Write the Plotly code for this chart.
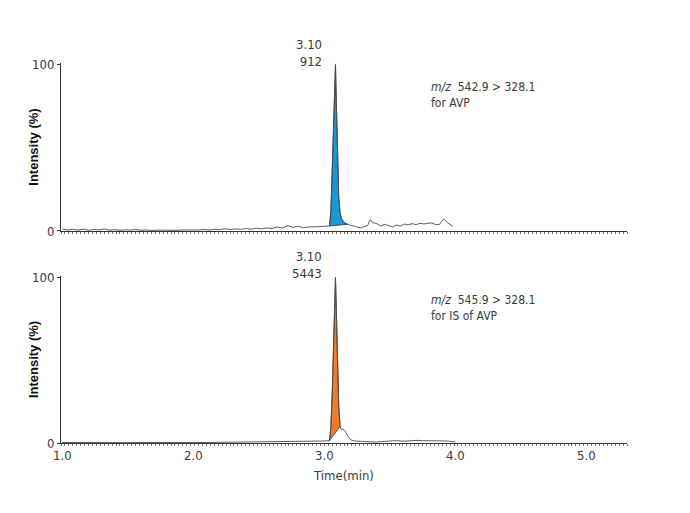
import plotly.graph_objects as go

# chromatogram for AVP (m/z 542.9 > 328.1)
avp_time = [1.00, 1.04, 1.08, 1.12, 1.16, 1.20, 1.24, 1.28, 1.32, 1.36, 1.40, 1.44, 1.48,
            1.52, 1.56, 1.60, 1.64, 1.68, 1.72, 1.76, 1.80, 1.84, 1.88, 1.92, 1.96, 2.00,
            2.04, 2.08, 2.12, 2.16, 2.20, 2.24, 2.28, 2.32, 2.36, 2.40, 2.44, 2.48, 2.52,
            2.56, 2.60, 2.64, 2.68, 2.72, 2.76, 2.80, 2.84, 2.88, 2.92, 2.96, 3.00,
            3.04, 3.05, 3.06, 3.07, 3.08, 3.085, 3.09, 3.10, 3.11, 3.12, 3.13, 3.15, 3.175,
            3.20, 3.24, 3.28, 3.31, 3.33, 3.35, 3.37, 3.40, 3.43, 3.46, 3.49, 3.52, 3.55,
            3.58, 3.61, 3.64, 3.67, 3.70, 3.73, 3.76, 3.79, 3.82, 3.85, 3.88, 3.91, 3.94,
            3.98]
avp_int = [1.2, 0.6, 1.0, 0.5, 1.1, 0.4, 0.9, 0.6, 1.2, 0.5, 0.8, 0.4, 0.7,
           0.5, 0.9, 0.4, 0.6, 0.3, 0.5, 0.4, 0.6, 0.5, 0.4, 0.6, 0.5, 0.8,
           0.6, 0.9, 0.5, 1.0, 0.8, 1.3, 0.9, 1.2, 1.0, 1.4, 1.1, 1.6, 1.3,
           1.8, 1.5, 2.4, 1.8, 3.2, 2.2, 2.8, 2.0, 2.4, 2.3, 2.6, 2.8,
           3.0, 12.0, 35.0, 62.0, 88.0, 100.0, 82.0, 45.0, 20.0, 11.0, 7.5, 5.0, 4.0,
           3.4, 2.6, 1.8, 2.8, 3.2, 6.8, 5.0, 4.4, 3.0, 4.0, 3.2, 2.4, 3.6,
           2.8, 4.2, 3.6, 4.4, 3.8, 4.6, 4.2, 4.6, 4.8, 3.8, 4.0, 7.2, 5.0,
           2.8]
avp_peak = (3.04, 3.175)

# chromatogram for IS of AVP (m/z 545.9 > 328.1)
is_time = [1.00, 1.10, 1.20, 1.30, 1.40, 1.50, 1.60, 1.70, 1.80, 1.90, 2.00, 2.10, 2.20,
           2.30, 2.40, 2.50, 2.60, 2.70, 2.80, 2.85, 2.90, 2.95, 3.00, 3.04, 3.05, 3.06,
           3.07, 3.08, 3.085, 3.09, 3.10, 3.11, 3.12, 3.13, 3.14, 3.16, 3.18, 3.20, 3.23,
           3.26, 3.30, 3.35, 3.40, 3.45, 3.50, 3.55, 3.60, 3.65, 3.70, 3.75, 3.80, 3.85,
           3.90, 3.95, 4.00]
is_int = [0.3, 0.2, 0.3, 0.2, 0.3, 0.2, 0.3, 0.2, 0.3, 0.2, 0.3, 0.3, 0.4,
          0.3, 0.4, 0.4, 0.5, 0.6, 0.8, 1.0, 1.1, 1.0, 1.2, 1.5, 10.0, 30.0,
          60.0, 88.0, 100.0, 85.0, 50.0, 22.0, 10.0, 8.0, 8.5, 7.0, 4.0, 2.0, 1.2,
          1.0, 0.8, 0.7, 0.6, 0.7, 1.2, 1.4, 1.1, 1.3, 1.6, 1.4, 1.5, 1.2,
          1.3, 1.1, 0.6]
is_peak = (3.04, 3.12)

x_ticks = [1.0, 2.0, 3.0, 4.0, 5.0]
x_labels = ["1.0", "2.0", "3.0", "4.0", "5.0"]
y_ticks = [0, 100]

narrow = "DejaVu Sans Condensed, Liberation Sans Narrow, Liberation Sans, sans-serif"
line_col = "#4a4a4a"
txt_col = "#3a3a3a"


def peak_polygon(t, y, lims):
    px = [a for a in t if lims[0] <= a <= lims[1]]
    py = [b for a, b in zip(t, y) if lims[0] <= a <= lims[1]]
    return px + [px[0]], py + [py[0]]


fig = go.Figure()

fx, fy = peak_polygon(avp_time, avp_int, avp_peak)
fig.add_trace(go.Scatter(x=fx, y=fy, fill="toself", fillcolor="#1b98d8",
                         line=dict(color="#1a3a4a", width=0.8), mode="lines",
                         xaxis="x", yaxis="y", hoverinfo="skip"))
fig.add_trace(go.Scatter(x=avp_time, y=avp_int, mode="lines",
                         line=dict(color=line_col, width=0.9), xaxis="x", yaxis="y"))

fx, fy = peak_polygon(is_time, is_int, is_peak)
fig.add_trace(go.Scatter(x=fx, y=fy, fill="toself", fillcolor="#f07b2c",
                         line=dict(color="#5a3010", width=0.8), mode="lines",
                         xaxis="x2", yaxis="y2", hoverinfo="skip"))
fig.add_trace(go.Scatter(x=is_time, y=is_int, mode="lines",
                         line=dict(color=line_col, width=0.9), xaxis="x2", yaxis="y2"))

xax = dict(range=[0.99, 5.31], showline=True, linecolor="#333", linewidth=1,
           showgrid=False, zeroline=False, ticks="", tickvals=x_ticks, ticktext=x_labels,
           automargin=False,
           minor=dict(ticks="outside", dtick=0.03, ticklen=2, tickcolor="#777", tickwidth=0.6),
           tickfont=dict(family=narrow, size=13, color=txt_col))
yax = dict(range=[0, 101], showline=True, linecolor="#333", linewidth=1,
           showgrid=False, zeroline=False, ticks="outside", ticklen=3, tickcolor="#333",
           tickvals=y_ticks, automargin=False,
           tickfont=dict(family=narrow, size=13, color=txt_col))

fig.update_layout(
    width=690, height=513, showlegend=False,
    plot_bgcolor="white", paper_bgcolor="white",
    margin=dict(l=53, r=71, t=55, b=78),
    xaxis=dict(xax, anchor="y", showticklabels=False),
    yaxis=dict(yax, domain=[0.558, 1.0], anchor="x"),
    xaxis2=dict(xax, anchor="y2",
                title=dict(text="Time(min)", standoff=9,
                           font=dict(family=narrow, size=13, color=txt_col))),
    yaxis2=dict(yax, domain=[0.0, 0.44], anchor="x2"),
)

for ya in ["y", "y2"]:
    fig.add_annotation(x=-0.065, y=0.5, xref="paper", yref=ya + " domain",
                       text="<b>Intensity (%)</b>", textangle=-90, showarrow=False,
                       font=dict(family="Liberation Sans, Arial, sans-serif", size=13,
                                 color="#111"))

fig.add_annotation(x=3.0, y=100, xref="x", yref="y", xanchor="right", yanchor="bottom",
                   yshift=-6, text="3.10<br>912", showarrow=False, align="right",
                   font=dict(family=narrow, size=13, color=txt_col))
fig.add_annotation(x=3.8, y=92, xref="x", yref="y", xanchor="left", yanchor="top",
                   text="<i>m/z</i>  542.9 > 328.1<br>for AVP", showarrow=False, align="left",
                   font=dict(family=narrow, size=12, color=txt_col))
fig.add_annotation(x=3.0, y=100, xref="x2", yref="y2", xanchor="right", yanchor="bottom",
                   yshift=-6, text="3.10<br>5443", showarrow=False, align="right",
                   font=dict(family=narrow, size=13, color=txt_col))
fig.add_annotation(x=3.8, y=92, xref="x2", yref="y2", xanchor="left", yanchor="top",
                   text="<i>m/z</i>  545.9 > 328.1<br>for IS of AVP", showarrow=False,
                   align="left", font=dict(family=narrow, size=12, color=txt_col))

fig.write_html("out.html")
